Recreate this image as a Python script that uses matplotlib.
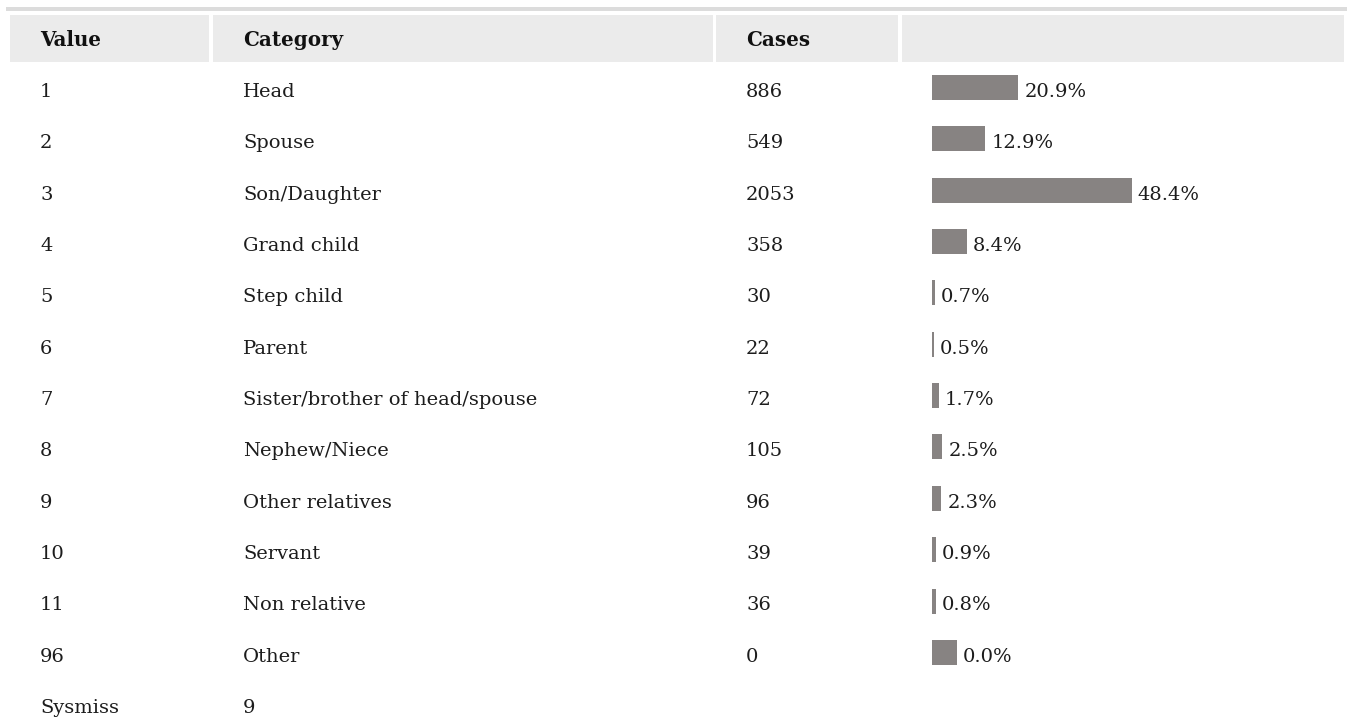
import matplotlib
matplotlib.use("Agg")
import matplotlib.pyplot as plt
from matplotlib.patches import Rectangle

# table data
values = ["1", "2", "3", "4", "5", "6", "7", "8", "9", "10", "11", "96"]
categories = ["Head", "Spouse", "Son/Daughter", "Grand child", "Step child", "Parent",
              "Sister/brother of head/spouse", "Nephew/Niece", "Other relatives",
              "Servant", "Non relative", "Other"]
cases = [886, 549, 2053, 358, 30, 22, 72, 105, 96, 39, 36, 0]
sysmiss = 9
headers = ["Value", "Category", "Cases", ""]

total = sum(cases)
pct = [c / total * 100 for c in cases]

W, H = 1347, 722
fig = plt.figure(figsize=(W / 100, H / 100), dpi=100)
ax = fig.add_axes([0, 0, 1, 1])
ax.set_xlim(0, W)
ax.set_ylim(H, 0)
ax.axis("off")

FONT = "DejaVu Serif"
FS = 14
TXT = "#1c1c1c"
BAR = "#878382"
HDR_BG = "#ebebeb"

# column extents (px) and text padding
cols = [(10, 209), (213, 713), (716, 898), (902, 1344)]
pad = 30
row0 = 75          # top of first bar
pitch = 51.35
bar_h = 25
px_per_pct = 200 / 48.4

# top rule + header
ax.add_patch(Rectangle((6, 7), W - 6, 4, color="#dcdcdc", lw=0))
for (x0, x1), h in zip(cols, headers):
    ax.add_patch(Rectangle((x0, 15), x1 - x0, 47, color=HDR_BG, lw=0))
    if h:
        ax.text(x0 + pad, 38.5, h, fontsize=14.3, fontweight="bold", family=FONT,
                color="#111111", va="center_baseline", ha="left")

# rows
base_off = 22
for i in range(len(values)):
    yb = row0 + i * pitch + base_off
    ax.text(cols[0][0] + pad, yb, values[i], fontsize=FS, family=FONT, color=TXT, va="baseline")
    ax.text(cols[1][0] + pad, yb, categories[i], fontsize=FS, family=FONT, color=TXT, va="baseline")
    ax.text(cols[2][0] + pad, yb, str(cases[i]), fontsize=FS, family=FONT, color=TXT, va="baseline")

ys = len(values)
ax.text(cols[0][0] + pad, row0 + ys * pitch + base_off, "Sysmiss", fontsize=FS, family=FONT,
        color=TXT, va="baseline")
ax.text(cols[1][0] + pad, row0 + ys * pitch + base_off, str(sysmiss), fontsize=FS, family=FONT,
        color=TXT, va="baseline")

# bars in their own axes, x in percent
bx0 = cols[3][0] + pad
bax = fig.add_axes([bx0 / W, 0, (W - bx0) / W, 1])
bax.set_xlim(0, (W - bx0) / px_per_pct)
bax.set_ylim(H, 0)
bax.axis("off")
empty_w = bar_h / px_per_pct  # zero-case bar shows as a square
centers = [row0 + i * pitch + bar_h / 2 for i in range(len(pct))]
widths = [p if p > 0 else empty_w for p in pct]
bax.barh(centers, widths, height=bar_h, color=BAR, lw=0)
for i, (c, w) in enumerate(zip(centers, widths)):
    bax.text(w + 6 / px_per_pct, row0 + i * pitch + base_off, f"{pct[i]:.1f}%",
             fontsize=FS, family=FONT, color=TXT, va="baseline")

fig.savefig("out.png", dpi=100)
